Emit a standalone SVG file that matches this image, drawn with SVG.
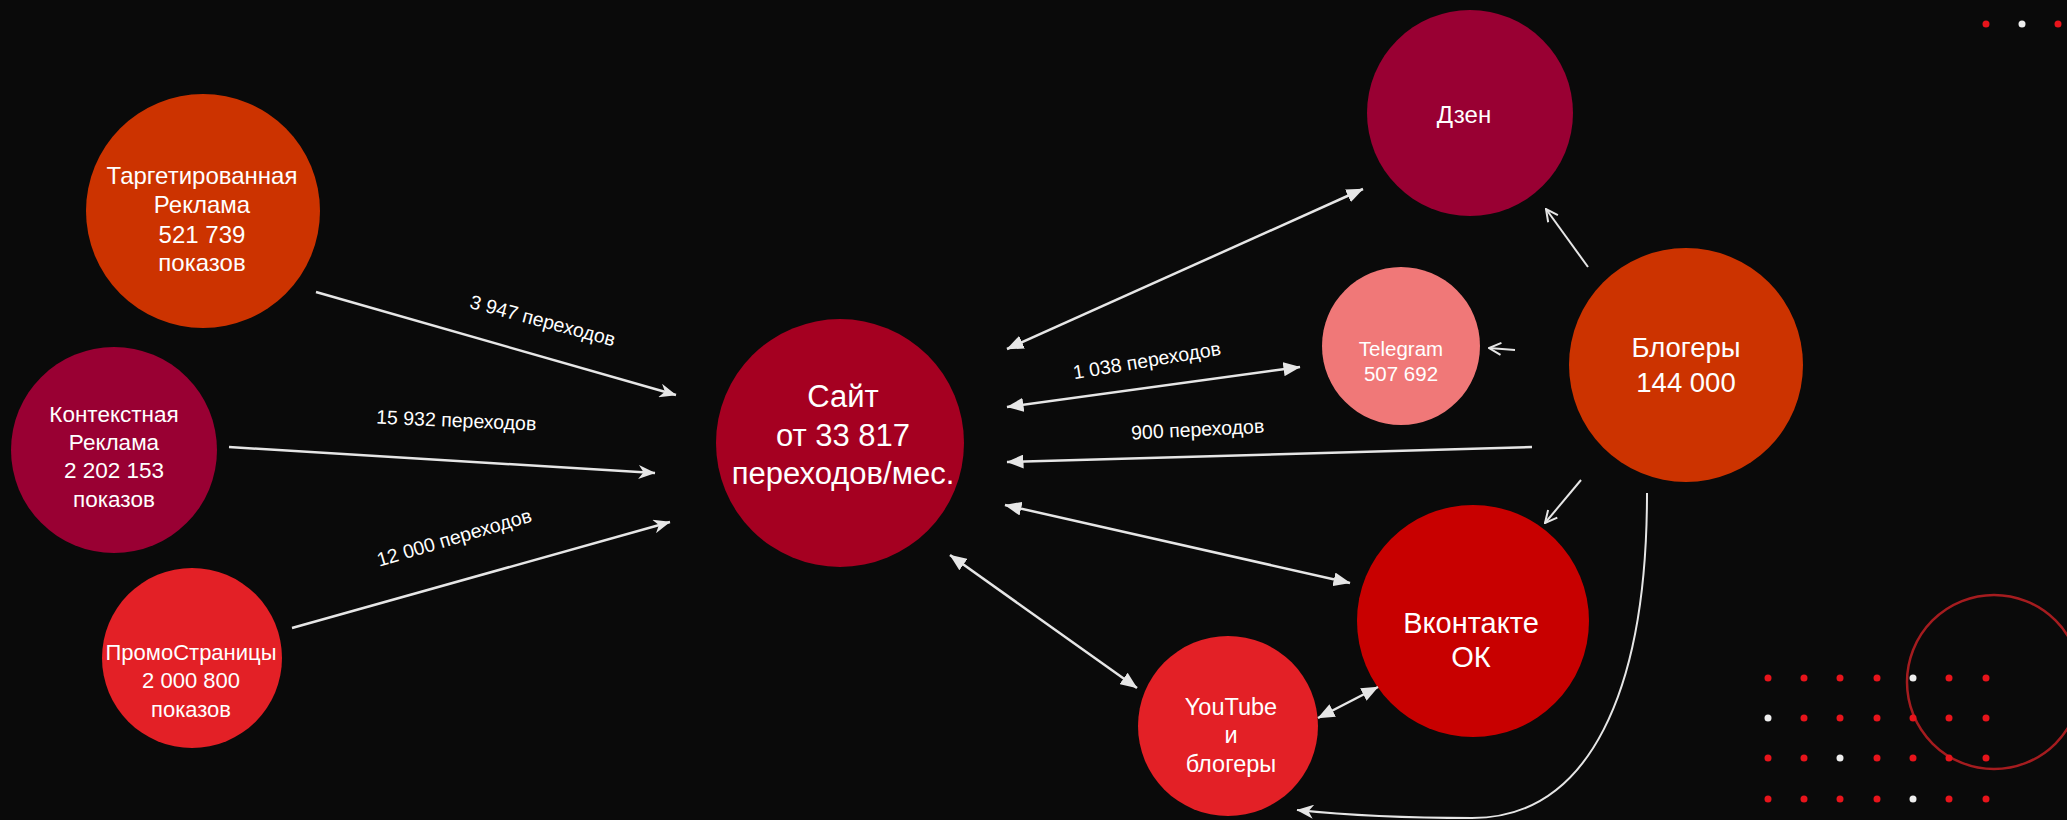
<svg xmlns="http://www.w3.org/2000/svg" width="2067" height="820" viewBox="0 0 2067 820">
<style>
.bg{fill:#0a0a0a}
.t{font-family:"Liberation Sans",Arial,sans-serif;fill:#ffffff;text-anchor:middle}
.lbl{font-family:"Liberation Sans",Arial,sans-serif;fill:#ffffff;text-anchor:middle;font-size:19.5px}
.c{fill:none;stroke:#e6e6e6;stroke-width:2.5}
.c2{fill:none;stroke:#e6e6e6;stroke-width:2}
.dr{fill:#e8141b}
.dw{fill:#eeeeee}
</style>
<defs>
<marker id="tri" markerUnits="userSpaceOnUse" viewBox="0 0 17 14" refX="16.5" refY="7" markerWidth="17" markerHeight="14" orient="auto-start-reverse">
<path d="M0,0 L17,7 L0,14 z" fill="#e6e6e6"/>
</marker>
<marker id="stl" markerUnits="userSpaceOnUse" viewBox="0 0 17 14" refX="16.5" refY="7" markerWidth="17" markerHeight="14" orient="auto">
<path d="M0,0 L17,7 L0,14 L5,7 z" fill="#e6e6e6"/>
</marker>
<marker id="vee" markerUnits="userSpaceOnUse" viewBox="0 0 14 14" refX="13" refY="7" markerWidth="14" markerHeight="14" orient="auto">
<path d="M1,1 L13,7 L1,13" fill="none" stroke="#e6e6e6" stroke-width="2"/>
</marker>
</defs>
<rect class="bg" x="0" y="0" width="2067" height="820"/>

<g id="decor">
<circle cx="1986" cy="24" r="3.5" class="dr"/>
<circle cx="2022" cy="24" r="3.5" class="dw"/>
<circle cx="2058" cy="24" r="3.5" class="dr"/>
<circle cx="1994" cy="682" r="87" fill="none" stroke="#a51c1f" stroke-width="2.5"/>
<g>
<circle cx="1768" cy="678" r="3.5" class="dr"/><circle cx="1804" cy="678" r="3.5" class="dr"/><circle cx="1840" cy="678" r="3.5" class="dr"/><circle cx="1877" cy="678" r="3.5" class="dr"/><circle cx="1913" cy="678" r="3.5" class="dw"/><circle cx="1949" cy="678" r="3.5" class="dr"/><circle cx="1986" cy="678" r="3.5" class="dr"/>
<circle cx="1768" cy="718" r="3.5" class="dw"/><circle cx="1804" cy="718" r="3.5" class="dr"/><circle cx="1840" cy="718" r="3.5" class="dr"/><circle cx="1877" cy="718" r="3.5" class="dr"/><circle cx="1913" cy="718" r="3.5" class="dr"/><circle cx="1949" cy="718" r="3.5" class="dr"/><circle cx="1986" cy="718" r="3.5" class="dr"/>
<circle cx="1768" cy="758" r="3.5" class="dr"/><circle cx="1804" cy="758" r="3.5" class="dr"/><circle cx="1840" cy="758" r="3.5" class="dw"/><circle cx="1877" cy="758" r="3.5" class="dr"/><circle cx="1913" cy="758" r="3.5" class="dr"/><circle cx="1949" cy="758" r="3.5" class="dr"/><circle cx="1986" cy="758" r="3.5" class="dr"/>
<circle cx="1768" cy="799" r="3.5" class="dr"/><circle cx="1804" cy="799" r="3.5" class="dr"/><circle cx="1840" cy="799" r="3.5" class="dr"/><circle cx="1877" cy="799" r="3.5" class="dr"/><circle cx="1913" cy="799" r="3.5" class="dw"/><circle cx="1949" cy="799" r="3.5" class="dr"/><circle cx="1986" cy="799" r="3.5" class="dr"/>
</g>
</g>

<g id="n-target">
<circle cx="203" cy="211" r="117" fill="#cc3300"/>
<text class="t" font-size="24"><tspan x="202" y="184">Таргетированная</tspan><tspan x="202" y="213">Реклама</tspan><tspan x="202" y="243">521 739</tspan><tspan x="202" y="271">показов</tspan></text>
</g>
<g id="n-context">
<circle cx="114" cy="450" r="103" fill="#990033"/>
<text class="t" font-size="22.5"><tspan x="114" y="422">Контекстная</tspan><tspan x="114" y="450">Реклама</tspan><tspan x="114" y="478">2 202 153</tspan><tspan x="114" y="507">показов</tspan></text>
</g>
<g id="n-promo">
<circle cx="192" cy="658" r="90" fill="#e32026"/>
<text class="t" font-size="22"><tspan x="191" y="660">ПромоСтраницы</tspan><tspan x="191" y="688">2 000 800</tspan><tspan x="191" y="717">показов</tspan></text>
</g>
<g id="n-site">
<circle cx="840" cy="443" r="124" fill="#a50021"/>
<text class="t" font-size="31"><tspan x="843" y="407">Сайт</tspan><tspan x="843" y="446">от 33 817</tspan><tspan x="843" y="484">переходов/мес.</tspan></text>
</g>
<g id="n-dzen">
<circle cx="1470" cy="113" r="103" fill="#990033"/>
<text class="t" font-size="24" x="1464" y="123">Дзен</text>
</g>
<g id="n-telegram">
<circle cx="1401" cy="346" r="79" fill="#f07878"/>
<text class="t" font-size="20.5"><tspan x="1401" y="356">Telegram</tspan><tspan x="1401" y="381">507 692</tspan></text>
</g>
<g id="n-bloggers">
<circle cx="1686" cy="365" r="117" fill="#cc3300"/>
<text class="t" font-size="27.5"><tspan x="1686" y="357">Блогеры</tspan><tspan x="1686" y="392">144 000</tspan></text>
</g>
<g id="n-vk">
<circle cx="1473" cy="621" r="116" fill="#c80000"/>
<text class="t" font-size="29"><tspan x="1471" y="633">Вконтакте</tspan><tspan x="1471" y="667">ОК</tspan></text>
</g>
<g id="n-youtube">
<circle cx="1228" cy="726" r="90" fill="#e32026"/>
<text class="t" font-size="23.5"><tspan x="1231" y="715">YouTube</tspan><tspan x="1231" y="743">и</tspan><tspan x="1231" y="772">блогеры</tspan></text>
</g>

<g id="connectors">
<line class="c" x1="316" y1="292" x2="676" y2="395" marker-end="url(#stl)"/>
<line class="c" x1="229" y1="447" x2="655" y2="473" marker-end="url(#stl)"/>
<line class="c" x1="292" y1="628" x2="670" y2="522" marker-end="url(#stl)"/>
<line class="c" x1="1007" y1="349" x2="1363" y2="189" marker-start="url(#tri)" marker-end="url(#tri)"/>
<line class="c" x1="1007" y1="407" x2="1300" y2="367" marker-start="url(#tri)" marker-end="url(#tri)"/>
<line class="c" x1="1532" y1="447" x2="1007" y2="462" marker-end="url(#tri)"/>
<line class="c" x1="1005" y1="505" x2="1350" y2="583" marker-start="url(#tri)" marker-end="url(#tri)"/>
<line class="c" x1="950" y1="555" x2="1137" y2="688" marker-start="url(#tri)" marker-end="url(#tri)"/>
<line class="c" x1="1318" y1="718" x2="1378" y2="687" marker-start="url(#tri)" marker-end="url(#tri)"/>
<line class="c2" x1="1581" y1="480" x2="1545" y2="523" marker-end="url(#vee)"/>
<line class="c2" x1="1588" y1="267" x2="1546" y2="209" marker-end="url(#vee)"/>
<line class="c2" x1="1515" y1="350" x2="1489" y2="348" marker-end="url(#vee)"/>
<path class="c2" d="M1647,493 C1647,690 1590,818 1472,818 C1400,818 1345,815 1297,810" marker-end="url(#stl)"/>
<text class="lbl" transform="translate(541,327) rotate(15)">3 947 переходов</text>
<text class="lbl" transform="translate(456,427) rotate(2.5)">15 932 переходов</text>
<text class="lbl" transform="translate(456,544) rotate(-16.5)">12 000 переходов</text>
<text class="lbl" transform="translate(1148,367) rotate(-9.5)">1 038 переходов</text>
<text class="lbl" transform="translate(1198,436) rotate(-3)">900 переходов</text>
</g>
</svg>
